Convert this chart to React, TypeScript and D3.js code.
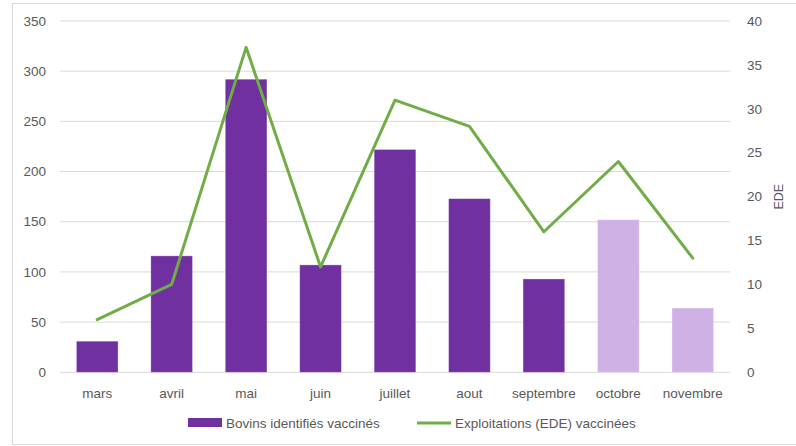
import React from "react";
import * as d3 from "d3";

const months = ["mars", "avril", "mai", "juin", "juillet", "aout", "septembre", "octobre", "novembre"];
const bovins = [31, 116, 292, 107, 222, 173, 93, 152, 64];
const exploitations = [6, 10, 37, 12, 31, 28, 16, 24, 13];
const lightMonths = ["octobre", "novembre"];
const leftTicks = [0, 50, 100, 150, 200, 250, 300, 350];
const rightTicks = [0, 5, 10, 15, 20, 25, 30, 35, 40];
const legendLabels = ["Bovins identifiés vaccinés", "Exploitations (EDE) vaccinées"];

const W = 796;
const H = 446;
const plot = { left: 60, right: 730, top: 21, bottom: 372.3 };
const FONT = "'Liberation Sans', Arial, sans-serif";
const FS = 13.5;
const TEXT = "#595959";
const PURPLE = "#7030A0";
const LIGHT = "#D0B1E6";
const GREEN = "#70AD47";

export default function App() {
  const x = d3.scaleBand().domain(months).range([plot.left, plot.right]).paddingInner(0.44).paddingOuter(0.22);
  const yL = d3.scaleLinear().domain([0, 350]).range([plot.bottom, plot.top]);
  const yR = d3.scaleLinear().domain([0, 40]).range([plot.bottom, plot.top]);
  const cx = (m: string) => (x(m) as number) + x.bandwidth() / 2;
  const line = d3
    .line<number>()
    .x((_, i) => cx(months[i]))
    .y((d) => yR(d));

  return (
    <svg width={W} height={H} style={{ position: "absolute", left: 0, top: 0, background: "#fff" }}>
      <rect x={12.5} y={3.5} width={W} height={441} fill="#fff" stroke="#D9D9D9" strokeWidth={1} />
      {leftTicks.map((t) => (
        <line key={"g" + t} x1={plot.left} x2={plot.right} y1={yL(t)} y2={yL(t)} stroke="#D9D9D9" strokeWidth={1} />
      ))}
      {leftTicks.map((t) => (
        <text key={"l" + t} x={46} y={yL(t)} dy="0.35em" textAnchor="end" fontFamily={FONT} fontSize={FS} fill={TEXT}>
          {t}
        </text>
      ))}
      {rightTicks.map((t) => (
        <text key={"r" + t} x={747} y={yR(t)} dy="0.35em" textAnchor="start" fontFamily={FONT} fontSize={FS} fill={TEXT}>
          {t}
        </text>
      ))}
      <text
        transform={`translate(783,${(plot.top + plot.bottom) / 2}) rotate(-90)`}
        textAnchor="middle"
        fontFamily={FONT}
        fontSize={12.5}
        fill={TEXT}
      >
        EDE
      </text>
      {months.map((m, i) => (
        <rect
          key={"b" + m}
          x={x(m)}
          y={yL(bovins[i])}
          width={x.bandwidth()}
          height={yL(0) - yL(bovins[i])}
          fill={lightMonths.includes(m) ? LIGHT : PURPLE}
          stroke="#ffffff"
          strokeOpacity={0.4}
          strokeWidth={0.8}
        />
      ))}
      <path d={line(exploitations) || ""} fill="none" stroke={GREEN} strokeWidth={3} strokeLinejoin="round" strokeLinecap="round" />
      {months.map((m) => (
        <text key={"x" + m} x={cx(m)} y={393} dy="0.35em" textAnchor="middle" fontFamily={FONT} fontSize={FS} fill={TEXT}>
          {m}
        </text>
      ))}
      <rect x={188} y={418} width={34} height={9} fill={PURPLE} />
      <text x={226} y={423} dy="0.35em" fontFamily={FONT} fontSize={FS} fill={TEXT}>
        {legendLabels[0]}
      </text>
      <line x1={417} x2={451} y1={423} y2={423} stroke={GREEN} strokeWidth={3} />
      <text x={455} y={423} dy="0.35em" fontFamily={FONT} fontSize={FS} fill={TEXT}>
        {legendLabels[1]}
      </text>
    </svg>
  );
}
